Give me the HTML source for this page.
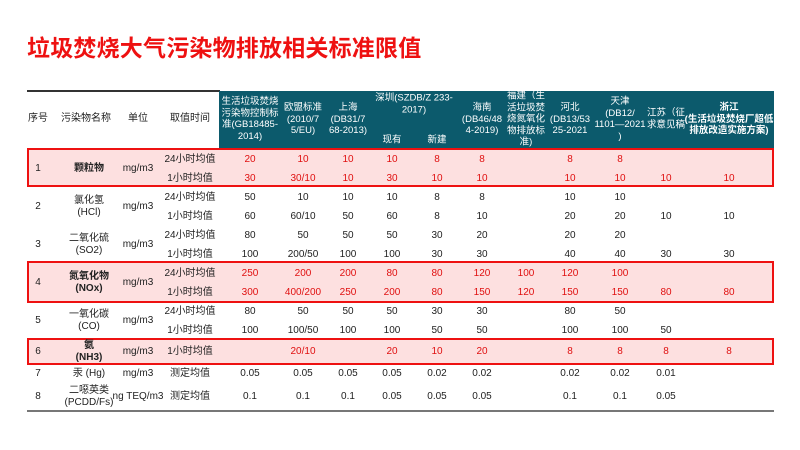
<!DOCTYPE html>
<html><head><meta charset="utf-8">
<style>
body{margin:0;width:800px;height:450px;background:#fff;position:relative;overflow:hidden;font-family:"Liberation Sans","Noto Sans CJK SC",sans-serif;}
.t{position:absolute;transform:translate(-50%,-50%);font-size:10px;color:#222;white-space:nowrap;text-align:center;line-height:12px;}
.r{color:#e01010;}
.b{font-weight:bold;}
.h{color:#fff;font-size:9.5px;line-height:11.5px;}
</style></head><body>
<div style="position:absolute;left:27px;top:31px;font-size:23px;font-weight:bold;color:#ee1111;letter-spacing:0.2px;font-family:'Noto Sans CJK SC',sans-serif;line-height:30px;">垃圾焚烧大气污染物排放相关标准限值</div>
<div style="position:absolute;left:27px;top:90px;width:193px;height:2px;background:#333"></div>
<div style="position:absolute;left:219px;top:91px;width:555px;height:57px;background:#0c5a6c"></div>
<div style="position:absolute;left:27px;top:148px;width:743px;height:35px;background:#fde0e0;border:2px solid #ee1111"></div>
<div style="position:absolute;left:27px;top:261px;width:743px;height:38px;background:#fde0e0;border:2px solid #ee1111"></div>
<div style="position:absolute;left:27px;top:338px;width:743px;height:23px;background:#fde0e0;border:2px solid #ee1111"></div>
<div style="position:absolute;left:27px;top:410px;width:747px;height:2px;background:#777"></div>
<div id="tbl"></div>
<script>
var colX=[250,303,348,392,437,482,526,570,620,666,729];
var headers=["生活垃圾焚烧<br>污染物控制标<br>准(GB18485-<br>2014)","欧盟标准<br>(2010/7<br>5/EU)","上海<br>(DB31/7<br>68-2013)","","","海南<br>(DB46/48<br>4-2019)","福建（生<br>活垃圾焚<br>烧氮氧化<br>物排放标<br>准)","河北<br>(DB13/53<br>25-2021","天津<br>(DB12/<br>1101—2021<br>)","江苏（征<br>求意见稿","浙江<br>(生活垃圾焚烧厂超低<br>排放改造实施方案)"];
var rowY=[160,179,198,217,236,255,274,293,312,331,352,374,397];
var periods=["24小时均值","1小时均值","24小时均值","1小时均值","24小时均值","1小时均值","24小时均值","1小时均值","24小时均值","1小时均值","1小时均值","测定均值","测定均值"];
var values=[
["20","10","10","10","8","8","","8","8","",""],
["30","30/10","10","30","10","10","","10","10","10","10"],
["50","10","10","10","8","8","","10","10","",""],
["60","60/10","50","60","8","10","","20","20","10","10"],
["80","50","50","50","30","20","","20","20","",""],
["100","200/50","100","100","30","30","","40","40","30","30"],
["250","200","200","80","80","120","100","120","100","",""],
["300","400/200","250","200","80","150","120","150","150","80","80"],
["80","50","50","50","30","30","","80","50","",""],
["100","100/50","100","100","50","50","","100","100","50",""],
["","20/10","","20","10","20","","8","8","8","8"],
["0.05","0.05","0.05","0.05","0.02","0.02","","0.02","0.02","0.01",""],
["0.1","0.1","0.1","0.05","0.05","0.05","","0.1","0.1","0.05",""]];
var redRows=[0,1,6,7,10];
var groups=[["1","颗粒物",169,true],["2","氯化氢<br>(HCl)",207,false],["3","二氧化硫<br>(SO2)",245,false],["4","氮氧化物<br>(NOx)",283,true],["5","一氧化碳<br>(CO)",321,false],["6","氨<br>(NH3)",352,true],["7","汞 (Hg)",374,false],["8","二噁英类<br>(PCDD/Fs)",397,false]];
var units=["mg/m3","mg/m3","mg/m3","mg/m3","mg/m3","mg/m3","mg/m3","ng TEQ/m3"];
var root=document.getElementById('tbl');
function mk(x,y,html,cls){var d=document.createElement('div');d.className='t '+(cls||'');d.style.left=x+'px';d.style.top=y+'px';d.innerHTML=html;root.appendChild(d);return d;}
var e;
e=mk(38,119,"序号");


e=mk(86,119,"污染物名称");


e=mk(138,119,"单位");


e=mk(190,119,"取值时间");


headers.forEach(function(h,i){
  if(!h)return;
  var d=mk(colX[i],119,h,'h'+(i==10?' b':''));
  
  
});
e=mk(414,104,"深圳(SZDB/Z 233-<br>2017)",'h');


e=mk(392,140,"现有",'h');


e=mk(437,140,"新建",'h');


groups.forEach(function(g,i){
  var a=mk(38,g[2],g[0]);
  
  
  var b=mk(89,g[2],g[1],g[3]?'b':'');
  
  
  var c=mk(138,g[2],units[i]);
  
  
});
periods.forEach(function(p,r){
  var d=mk(190,rowY[r],p);
  
  
  values[r].forEach(function(v,c){
    if(!v)return;
    var q=mk(colX[c],rowY[r],v,redRows.indexOf(r)>=0?'r':'');
    
    
  });
});
</script>
</body></html>
